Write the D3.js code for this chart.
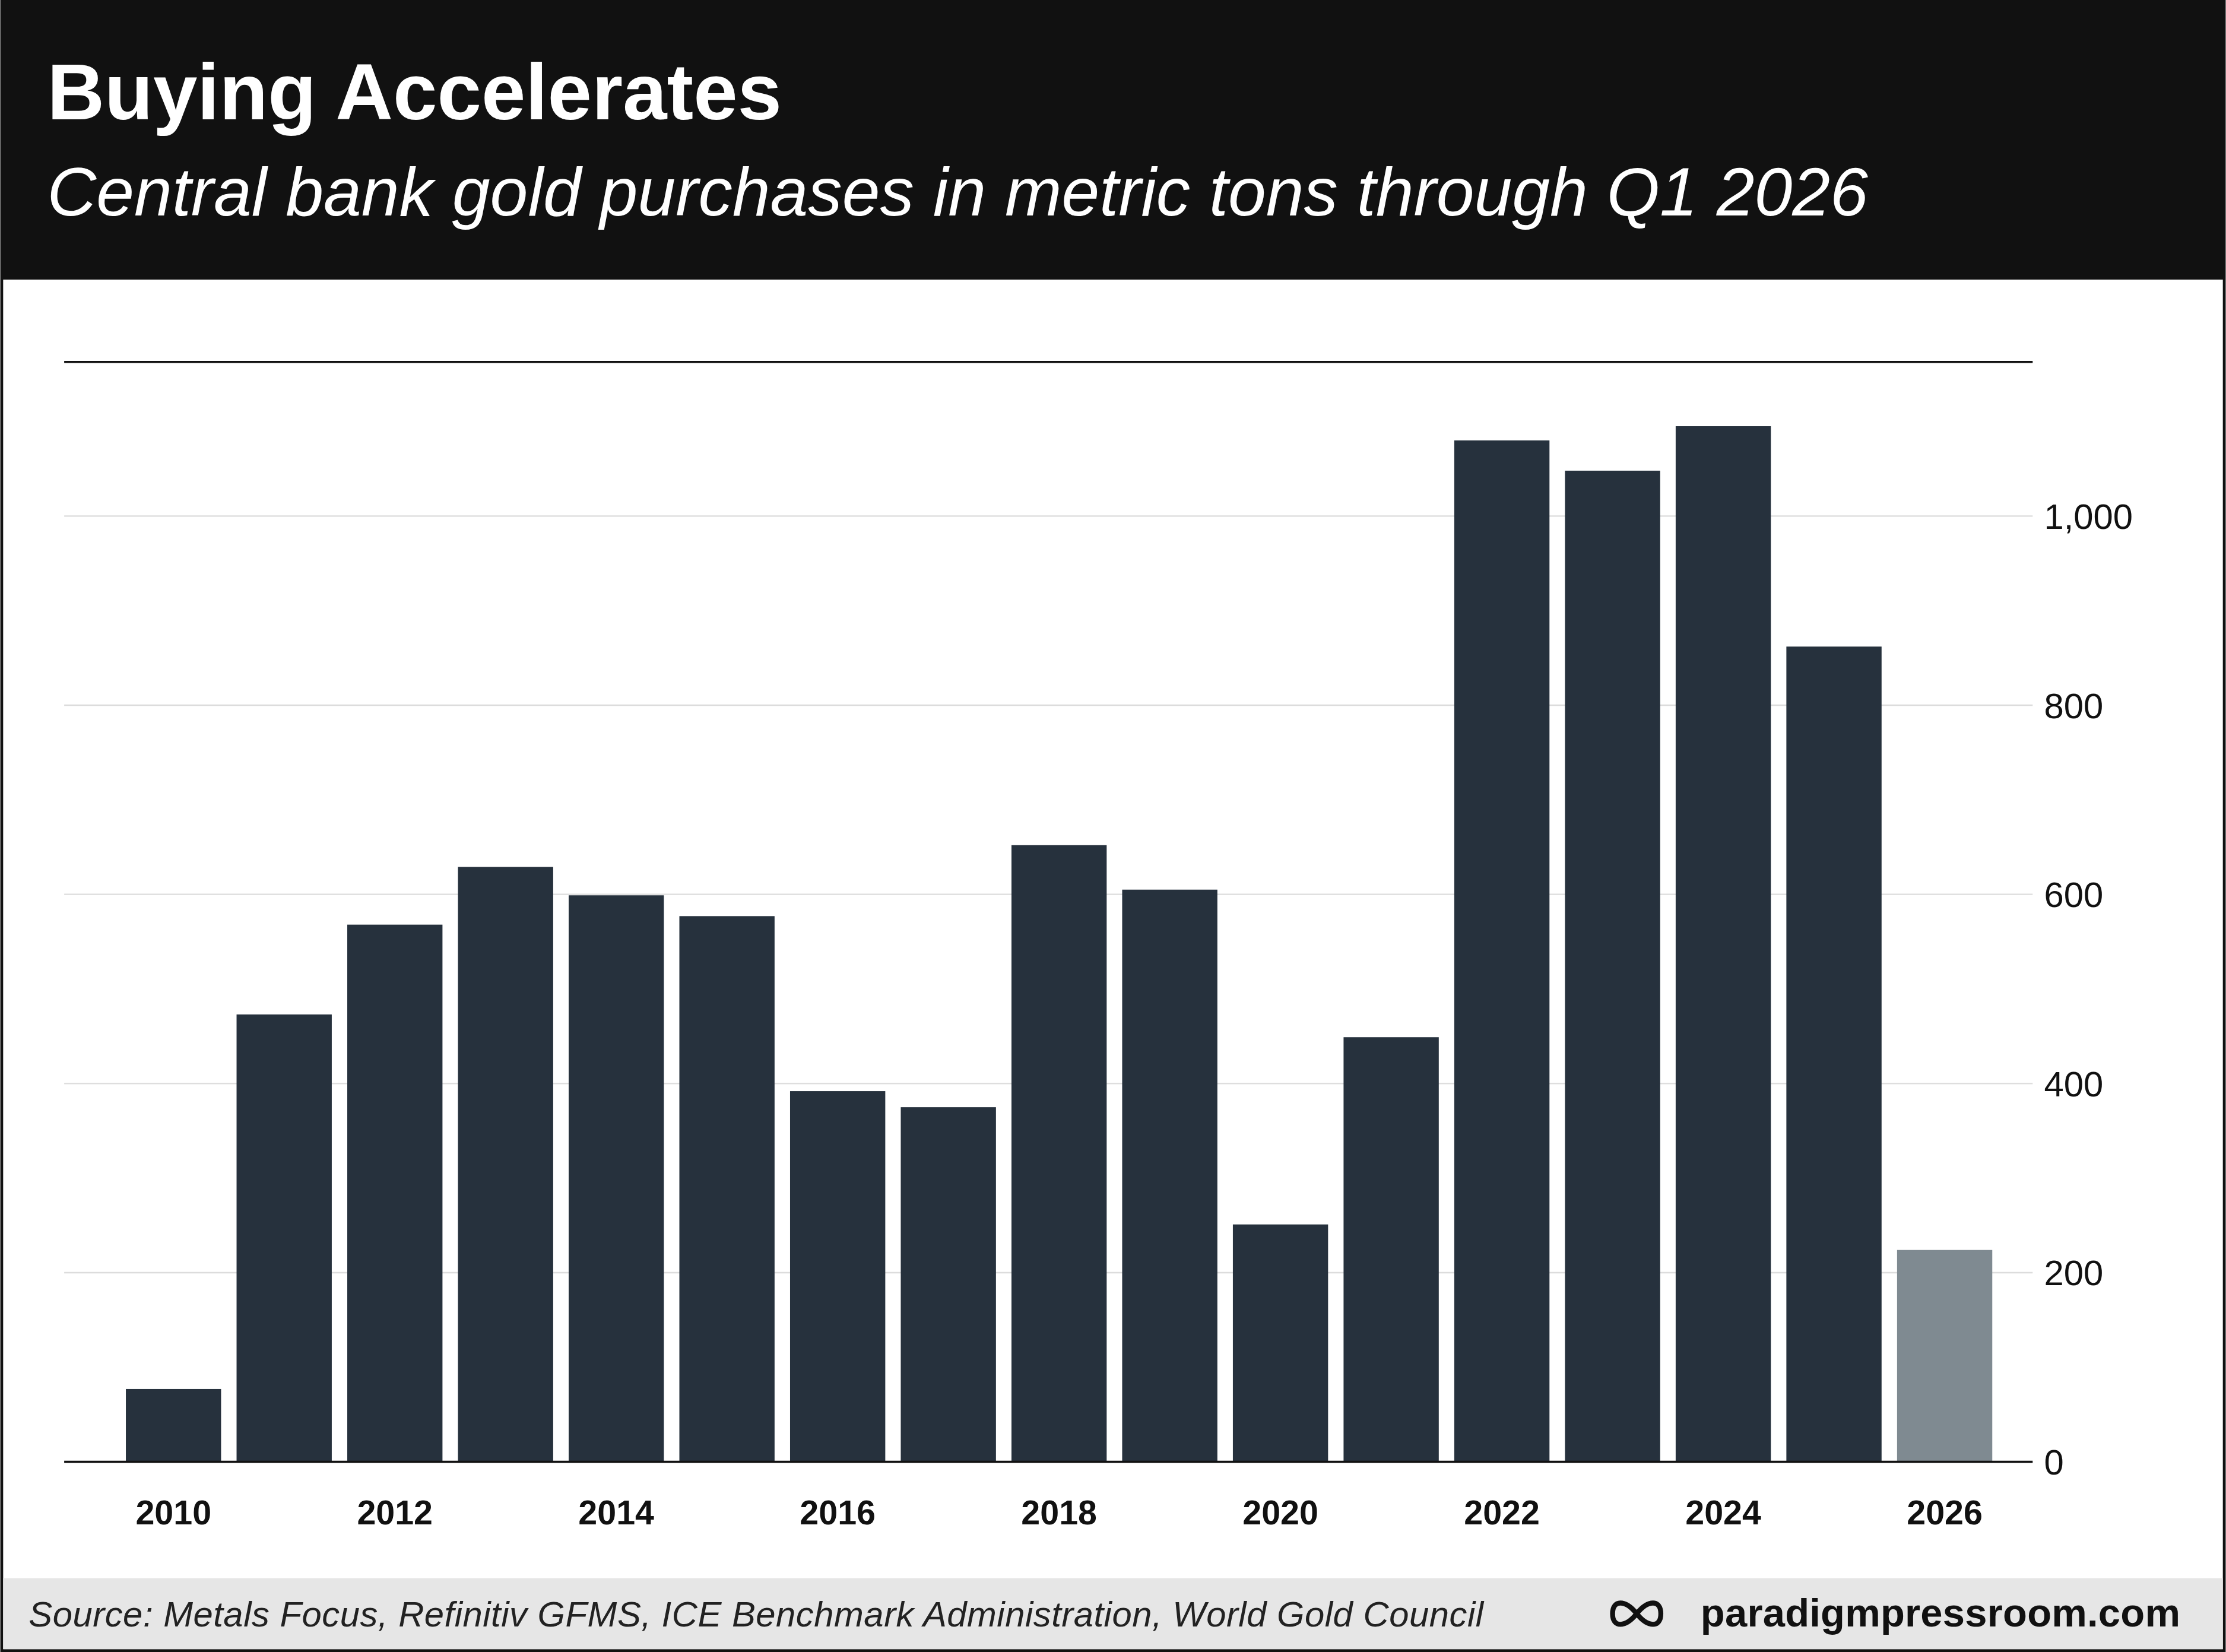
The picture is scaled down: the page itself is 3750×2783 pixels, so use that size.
<!DOCTYPE html>
<html>
<head>
<meta charset="utf-8">
<script src="https://cdn.jsdelivr.net/npm/d3@7"></script>
<style>
  html, body { margin: 0; padding: 0; background: #fff; }
  svg { display: block; font-family: "Liberation Sans", Arial, sans-serif; }
</style>
</head>
<body>
<script>
const years = d3.range(2010, 2027).map(String);
const purchases = [77, 473, 568, 629, 599, 577, 392, 375, 652, 605, 251, 449, 1080, 1048, 1095, 862, 224];
const yTicks = [0, 200, 400, 600, 800, 1000];
const xLabels = ['2010', '2012', '2014', '2016', '2018', '2020', '2022', '2024', '2026'];

const W = 1568, H = 1164;
const svg = d3.select('body').append('svg')
  .attr('width', 3750).attr('height', 2783)
  .attr('viewBox', `0 0 ${W} ${H}`);

// frame + header
svg.append('rect').attr('width', W).attr('height', H).attr('fill', '#111');
svg.append('rect').attr('x', 2).attr('y', 197).attr('width', W - 4).attr('height', H - 199).attr('fill', '#fff');
svg.append('text').attr('x', 33).attr('y', 84).attr('fill', '#fff')
  .attr('font-size', 56).attr('font-weight', 'bold')
  .text('Buying Accelerates');
svg.append('text').attr('x', 33).attr('y', 152).attr('fill', '#fff')
  .attr('font-size', 48).attr('font-style', 'italic')
  .attr('textLength', 1283)
  .text('Central bank gold purchases in metric tons through Q1 2026');

const x = d3.scaleBand().domain(years).range([83, 1409]).paddingInner(0.14).paddingOuter(0.07);
const y = d3.scaleLinear().domain([0, 1163]).range([1030, 255]);

const g = svg.append('g');
g.selectAll('line.grid').data(yTicks.slice(1)).enter().append('line')
  .attr('x1', 45).attr('x2', 1432)
  .attr('y1', d => y(d)).attr('y2', d => y(d))
  .attr('stroke', '#dcdcdc').attr('stroke-width', 1);
g.append('line').attr('x1', 45).attr('x2', 1432).attr('y1', 255).attr('y2', 255)
  .attr('stroke', '#111').attr('stroke-width', 1.5);

g.selectAll('rect.bar').data(purchases).enter().append('rect')
  .attr('x', (d, i) => x(years[i]))
  .attr('width', x.bandwidth())
  .attr('y', d => y(d))
  .attr('height', d => y(0) - y(d))
  .attr('fill', (d, i) => i === purchases.length - 1 ? '#7f8a91' : '#26313d');

g.append('line').attr('x1', 45).attr('x2', 1432).attr('y1', y(0)).attr('y2', y(0))
  .attr('stroke', '#111').attr('stroke-width', 1.5);

g.selectAll('text.yt').data(yTicks).enter().append('text')
  .attr('x', 1440).attr('y', d => y(d) + 9)
  .attr('font-size', 25).attr('fill', '#111')
  .text(d => d3.format(',')(d));

g.selectAll('text.xt').data(xLabels).enter().append('text')
  .attr('x', d => x(d) + x.bandwidth() / 2).attr('y', 1074)
  .attr('text-anchor', 'middle').attr('font-size', 24).attr('font-weight', 'bold')
  .attr('fill', '#111').text(d => d);

// footer
svg.append('rect').attr('x', 2).attr('y', 1112).attr('width', W - 4).attr('height', 50).attr('fill', '#e6e6e6');
svg.append('text').attr('x', 20).attr('y', 1146).attr('font-size', 25).attr('font-style', 'italic')
  .attr('fill', '#222').attr('textLength', 1025)
  .text('Source: Metals Focus, Refinitiv GFMS, ICE Benchmark Administration, World Gold Council');
svg.append('path')
  .attr('d', 'M1153,1137 C1145,1127 1136,1127 1136,1137 C1136,1147 1145,1147 1153,1137 C1161,1127 1170,1127 1170,1137 C1170,1147 1161,1147 1153,1137 Z')
  .attr('fill', 'none').attr('stroke', '#111').attr('stroke-width', 3.5);
svg.append('text').attr('x', 1536).attr('y', 1146).attr('text-anchor', 'end')
  .attr('font-size', 28).attr('font-weight', 'bold').attr('fill', '#111')
  .attr('textLength', 338).text('paradigmpressroom.com');
</script>
</body>
</html>
